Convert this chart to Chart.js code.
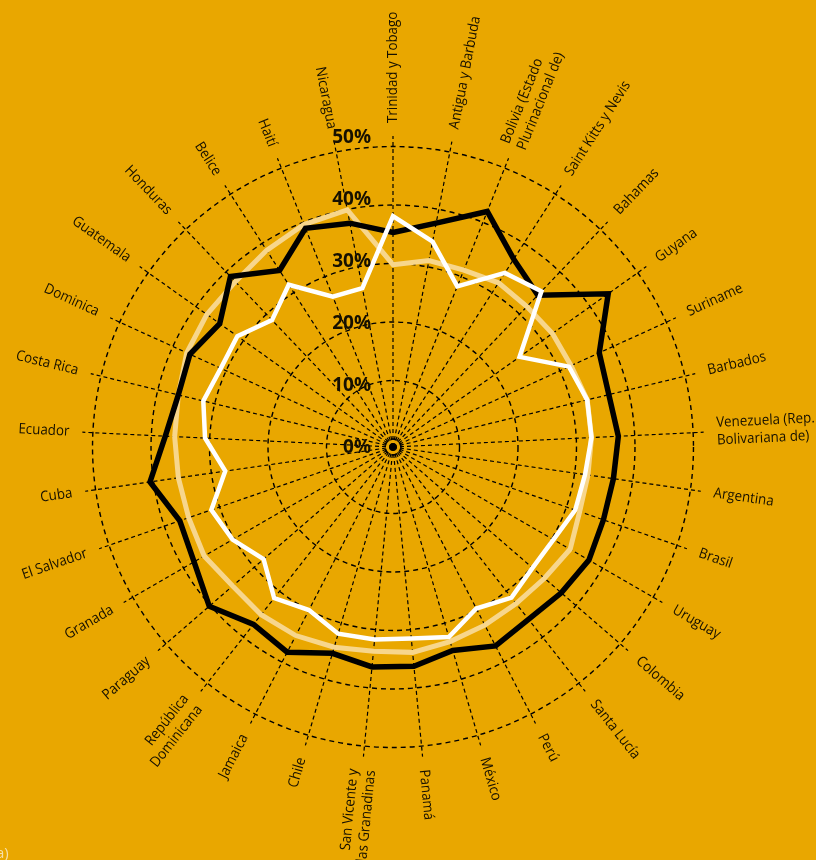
<!DOCTYPE html>
<html>
<head>
<meta charset="utf-8">
<script src="https://cdn.jsdelivr.net/npm/chart.js@4.4.1/dist/chart.umd.min.js"></script>
<style>
  html, body { margin: 0; padding: 0; background: #E9A700; overflow: hidden; }
  #wrap { position: relative; width: 816px; height: 860px; }
  canvas { position: absolute; left: 0; top: 0; }
  #note { position: absolute; left: -4px; top: 842px; font: 15px "Open Sans", sans-serif; color: #F6DFA8; }
</style>
</head>
<body>
<div id="wrap">
  <canvas id="c" width="816" height="860"></canvas>
  <div id="note">a)</div>
</div>
<script>
// Categories (clockwise from top)
const categories = [
  'Trinidad y Tobago', 'Antigua y Barbuda', ['Bolivia (Estado', 'Plurinacional de)'],
  'Saint Kitts y Nevis', 'Bahamas', 'Guyana', 'Suriname', 'Barbados',
  ['Venezuela (Rep.', 'Bolivariana de)'], 'Argentina', 'Brasil', 'Uruguay', 'Colombia',
  'Santa Lucía', 'Perú', 'México', 'Panamá', ['San Vicente y', 'las Granadinas'],
  'Chile', 'Jamaica', ['República', 'Dominicana'], 'Paraguay', 'Granada', 'El Salvador',
  'Cuba', 'Ecuador', 'Costa Rica', 'Dominica', 'Guatemala', 'Honduras', 'Belice',
  'Haití', 'Nicaragua'
];

// Series values (%)
const seriesBlack = [35.3, 37.6, 42.0, 36.8, 34.5, 43.8, 37.4, 36.6, 37.2, 36.7, 36.7,
  37.3, 36.7, 36.1, 36.9, 34.9, 36.3, 36.4, 35.4, 38.1, 37.2, 40.2, 37.9, 37.2, 40.6,
  37.6, 36.4, 36.8, 35.0, 38.9, 34.5, 38.9, 37.6];
const seriesPale = [29.8, 31.1, 31.2, 32.0, 31.8, 32.1, 32.1, 32.8, 32.6, 32.3, 32.4,
  33.6, 32.9, 32.7, 32.9, 33.3, 33.9, 33.7, 34.3, 34.9, 35.1, 34.9, 35.9, 35.6, 35.7,
  36.0, 36.4, 37.4, 37.7, 37.7, 38.6, 39.6, 39.9];
const seriesWhite = [38.1, 34.4, 28.2, 34.0, 35.4, 25.2, 31.7, 32.8, 32.6, 31.8, 31.6,
  30.3, 30.2, 31.4, 29.7, 32.5, 31.5, 31.7, 31.9, 30.0, 31.5, 27.9, 30.3, 31.5, 27.6,
  30.8, 32.0, 31.0, 31.3, 28.6, 31.6, 26.3, 26.3];

// Tick values (%)
const tickValues = [0, 10, 20, 30, 40, 50];

const INK = '#161000';

const labelPlugin = {
  id: 'radialLabels',
  afterDraw(chart) {
    const s = chart.scales.r;
    const ctx = chart.ctx;
    const rText = s.getDistanceFromCenterForValue(s.max) + 13;
    ctx.save();
    ctx.fillStyle = INK;
    ctx.textBaseline = 'middle';
    ctx.font = '14.5px "Open Sans", sans-serif';
    categories.forEach((lab, i) => {
      const a = s.getIndexAngle(i) - Math.PI / 2;
      const p = s.getPointPosition(i, rText);
      const lines = Array.isArray(lab) ? lab : [lab];
      const outward = Math.cos(a) > -1e-6;
      ctx.save();
      ctx.translate(p.x, p.y);
      ctx.rotate(outward ? a : a + Math.PI);
      ctx.scale(0.92, 1);
      ctx.textAlign = outward ? 'left' : 'right';
      const lh = 17.5;
      lines.forEach((ln, k) => ctx.fillText(ln, 0, (k - (lines.length - 1) / 2) * lh));
      ctx.restore();
    });
    // tick labels
    ctx.font = 'bold 19px "Open Sans", sans-serif';
    ctx.textAlign = 'right';
    const d0 = s.getDistanceFromCenterForValue(0);
    tickValues.forEach(v => {
      const d = (s.getDistanceFromCenterForValue(v) - d0) * 1.063;
      ctx.fillText(v + '%', s.xCenter - 22, s.yCenter - d + 1);
    });
    ctx.restore();
  }
};

new Chart(document.getElementById('c'), {
  type: 'radar',
  data: {
    labels: categories,
    datasets: [
      { data: seriesWhite, borderColor: '#FFFFFF', borderWidth: 4.5, order: 0 },
      { data: seriesBlack, borderColor: '#000000', borderWidth: 5.5, order: 1 },
      { data: seriesPale, borderColor: '#F7D68C', borderWidth: 5, order: 2 }
    ]
  },
  options: {
    responsive: false,
    devicePixelRatio: 1,
    animation: false,
    layout: { padding: 0 },
    elements: {
      line: { tension: 0, fill: false, borderJoinStyle: 'miter' },
      point: { radius: 0, hoverRadius: 0 }
    },
    plugins: { legend: { display: false }, tooltip: { enabled: false } },
    scales: {
      r: {
        min: -1.37,
        max: 51.8,
        startAngle: 0,
        afterBuildTicks(scale) {
          scale.ticks = tickValues.map(v => ({ value: v }));
        },
        afterFit(scale) {
          scale.xCenter = 393;
          scale.yCenter = 447;
          scale.drawingArea = 311;
        },
        ticks: { display: false },
        pointLabels: { display: false },
        grid: { circular: true, color: '#000000', lineWidth: 1.4 },
        border: { dash: [5, 4] },
        angleLines: { color: '#000000', lineWidth: 1.2, borderDash: [4, 3] }
      }
    }
  },
  plugins: [labelPlugin]
});
</script>
</body>
</html>
